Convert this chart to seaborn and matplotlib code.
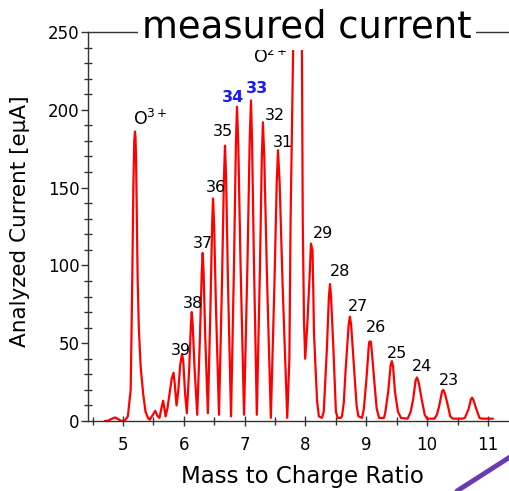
import matplotlib
matplotlib.use("Agg")
import matplotlib.pyplot as plt
import numpy as np
import pandas as pd
import seaborn as sns
from matplotlib.ticker import MultipleLocator
from matplotlib.lines import Line2D

# ---------------- data ----------------
mass_to_charge = [
    4.70, 4.76, 4.82, 4.87, 4.92, 4.97, 5.03, 5.08,
    5.126, 5.14, 5.155, 5.17, 5.185, 5.197, 5.205, 5.215, 5.225, 5.24, 5.26, 5.29, 5.33, 5.37, 5.41,
    5.44, 5.49, 5.53, 5.57, 5.60, 5.63, 5.66, 5.68, 5.70,
    5.73, 5.77, 5.80, 5.83, 5.85, 5.88, 5.91, 5.94, 5.97, 5.99, 6.02, 6.05,
    6.09, 6.116, 6.13, 6.146, 6.175, 6.22,
    6.265, 6.294, 6.31, 6.325, 6.352, 6.395,
    6.437, 6.465, 6.48, 6.498, 6.529, 6.578,
    6.627, 6.659, 6.677, 6.695, 6.726, 6.776,
    6.825, 6.856, 6.874, 6.895, 6.932, 6.99,
    7.047, 7.083, 7.104, 7.121, 7.152, 7.20,
    7.25, 7.282, 7.30, 7.323, 7.365, 7.43,
    7.489, 7.527, 7.548, 7.575, 7.624, 7.70,
    7.735, 7.755, 7.78, 7.80, 7.83, 7.87, 7.91, 7.94, 7.955, 7.975, 7.995,
    8.03, 8.07, 8.09, 8.10, 8.115, 8.13, 8.14, 8.17, 8.19, 8.22, 8.27,
    8.30, 8.35, 8.385, 8.403, 8.42, 8.46, 8.50, 8.53, 8.58,
    8.60, 8.63, 8.66, 8.71, 8.73, 8.75, 8.80, 8.84, 8.87, 8.93,
    8.96, 9.00, 9.04, 9.05, 9.075, 9.09, 9.13, 9.17, 9.21, 9.29,
    9.31, 9.36, 9.40, 9.42, 9.44, 9.47, 9.52, 9.57, 9.68,
    9.73, 9.77, 9.81, 9.833, 9.86, 9.91, 9.96, 10.00, 10.12,
    10.16, 10.20, 10.245, 10.265, 10.29, 10.34, 10.38, 10.42, 10.58,
    10.62, 10.68, 10.72, 10.74, 10.76, 10.81, 10.86, 10.90, 11.08,
]
analyzed_current = [
    0, 0.3, 1.5, 2.3, 1.2, 0, 0.3, 3,
    20, 56, 100, 150, 180, 186, 183, 168, 140, 93, 60, 35, 18, 6, 2,
    0.8, 4, 6.5, 3, 2, 8, 13, 8, 3,
    8, 19, 27, 31, 24, 10, 20, 36, 43, 39, 18, 5,
    35, 62, 70, 62, 35, 4,
    54, 95, 108, 95, 54, 5,
    72, 126, 143, 126, 72, 4,
    88, 156, 177, 156, 88, 3,
    101, 178, 202, 178, 101, 4,
    103, 181, 206, 181, 103, 4,
    96, 169, 192, 169, 96, 2,
    87, 153, 174, 153, 87, 2,
    40, 129, 193, 245, 330, 380, 330, 250, 129, 65, 40,
    62, 95, 114, 112, 110, 80, 56, 30, 13, 3, 2,
    6, 45, 80, 88, 80, 45, 6, 2, 2,
    3, 12, 33, 62, 67, 62, 33, 10, 3, 2,
    8, 26, 48, 51, 51, 45, 26, 8, 2, 2,
    5, 19, 36, 38.5, 35, 19, 6, 2, 1.5,
    6, 14, 26, 28, 25, 14, 4, 1.5, 1.5,
    4, 10, 19, 20, 18, 10, 3, 1.5, 1.5,
    2, 7.5, 14, 15, 13.5, 7.5, 2, 1.5, 1.5,
]

charge_labels = ["39", "38", "37", "36", "35", "34", "33", "32", "31",
                 "29", "28", "27", "26", "25", "24", "23"]
label_x = [5.953, 6.143, 6.315, 6.529, 6.644, 6.808, 7.203, 7.499, 7.622,
           8.280, 8.576, 8.871, 9.167, 9.504, 9.915, 10.351]
label_y = [42.4, 72.6, 111.2, 147.2, 183.2, 205.0, 210.8, 193.4, 176.1,
           117.6, 93.2, 70.7, 57.2, 40.5, 32.1, 23.1]
highlighted = ["34", "33"]

x_ticks = [5, 6, 7, 8, 9, 10, 11]
y_ticks = [0, 50, 100, 150, 200, 250]

# ---------------- plotting ----------------
sns.set_style("white")
plt.rcParams["font.family"] = ["DejaVu Sans"]
plt.rcParams["mathtext.fontset"] = "dejavusans"
plt.rcParams["text.color"] = "black"
plt.rcParams["axes.labelcolor"] = "black"
plt.rcParams["xtick.color"] = "black"
plt.rcParams["ytick.color"] = "black"

W, H = 510, 491
fig = plt.figure(figsize=(W / 100, H / 100), dpi=100)
ax = fig.add_axes([88 / W, 70 / H, 422 / W, 389 / H])

df = pd.DataFrame({"mz": mass_to_charge, "cur": analyzed_current})
sns.lineplot(data=df, x="mz", y="cur", ax=ax, color="#ff0000", lw=1.6,
             sort=False, estimator=None)

ax.set_xlim(4.4246, 11.362)
ax.set_ylim(0, 250)
ax.set_xlabel("")
ax.set_ylabel("")

axis_col = "#333333"
for side in ["left", "bottom", "top"]:
    ax.spines[side].set_visible(True)
    ax.spines[side].set_color(axis_col)
    ax.spines[side].set_linewidth(1.0)
ax.spines["right"].set_visible(False)

ax.set_xticks(x_ticks)
ax.set_xticklabels([str(t) for t in x_ticks])
ax.set_yticks(y_ticks)
ax.set_yticklabels([str(t) for t in y_ticks])
ax.xaxis.set_minor_locator(MultipleLocator(0.5))
ax.yaxis.set_minor_locator(MultipleLocator(10))
ax.tick_params(which="both", top=False, right=False, color=axis_col, width=1)
ax.tick_params(axis="y", which="major", direction="out", length=5, pad=1.2,
               labelsize=12, labelcolor="black", left=True)
ax.tick_params(axis="y", which="minor", direction="inout", length=6, left=True)
ax.tick_params(axis="x", which="major", direction="inout", length=7, pad=7,
               labelsize=12, labelcolor="black", bottom=True)
ax.tick_params(axis="x", which="minor", direction="inout", length=6, bottom=True)

# peak annotations
for lab, lx, ly in zip(charge_labels, label_x, label_y):
    if lab in highlighted:
        ax.text(lx, ly, lab, ha="center", va="baseline", fontsize=11.5,
                color="#1a1aff", fontweight="bold")
    else:
        ax.text(lx, ly, lab, ha="center", va="baseline", fontsize=11.5,
                color="black")
ax.text(5.164, 190.2, r"O$^{3+}$", ha="left", va="baseline", fontsize=12.5,
        color="black")
ax.text(7.137, 230.1, r"O$^{2+}$", ha="left", va="baseline", fontsize=12.5,
        color="black")

# labels and title
fig.text(302.5 / W, 1 - 483 / H, "Mass to Charge Ratio", ha="center",
         va="baseline", fontsize=16.5, color="black")
fig.text(20 / W, 1 - 221 / H, "Analyzed Current [eμA]", ha="center",
         va="center", rotation=90, fontsize=15.5, color="black")
fig.text(307 / W, 1 - 38 / H, "measured current", ha="center", va="baseline",
         fontsize=26.6, zorder=10, color="black",
         bbox=dict(facecolor="white", edgecolor="none", pad=3))

# decorative diagonal stroke at bottom-right corner
fig.add_artist(Line2D([457 / W, 1.0], [0.0, 1 - 457 / H],
                      transform=fig.transFigure, color="#6a3ab2", lw=3.5))

fig.savefig("out.png", dpi=100)
